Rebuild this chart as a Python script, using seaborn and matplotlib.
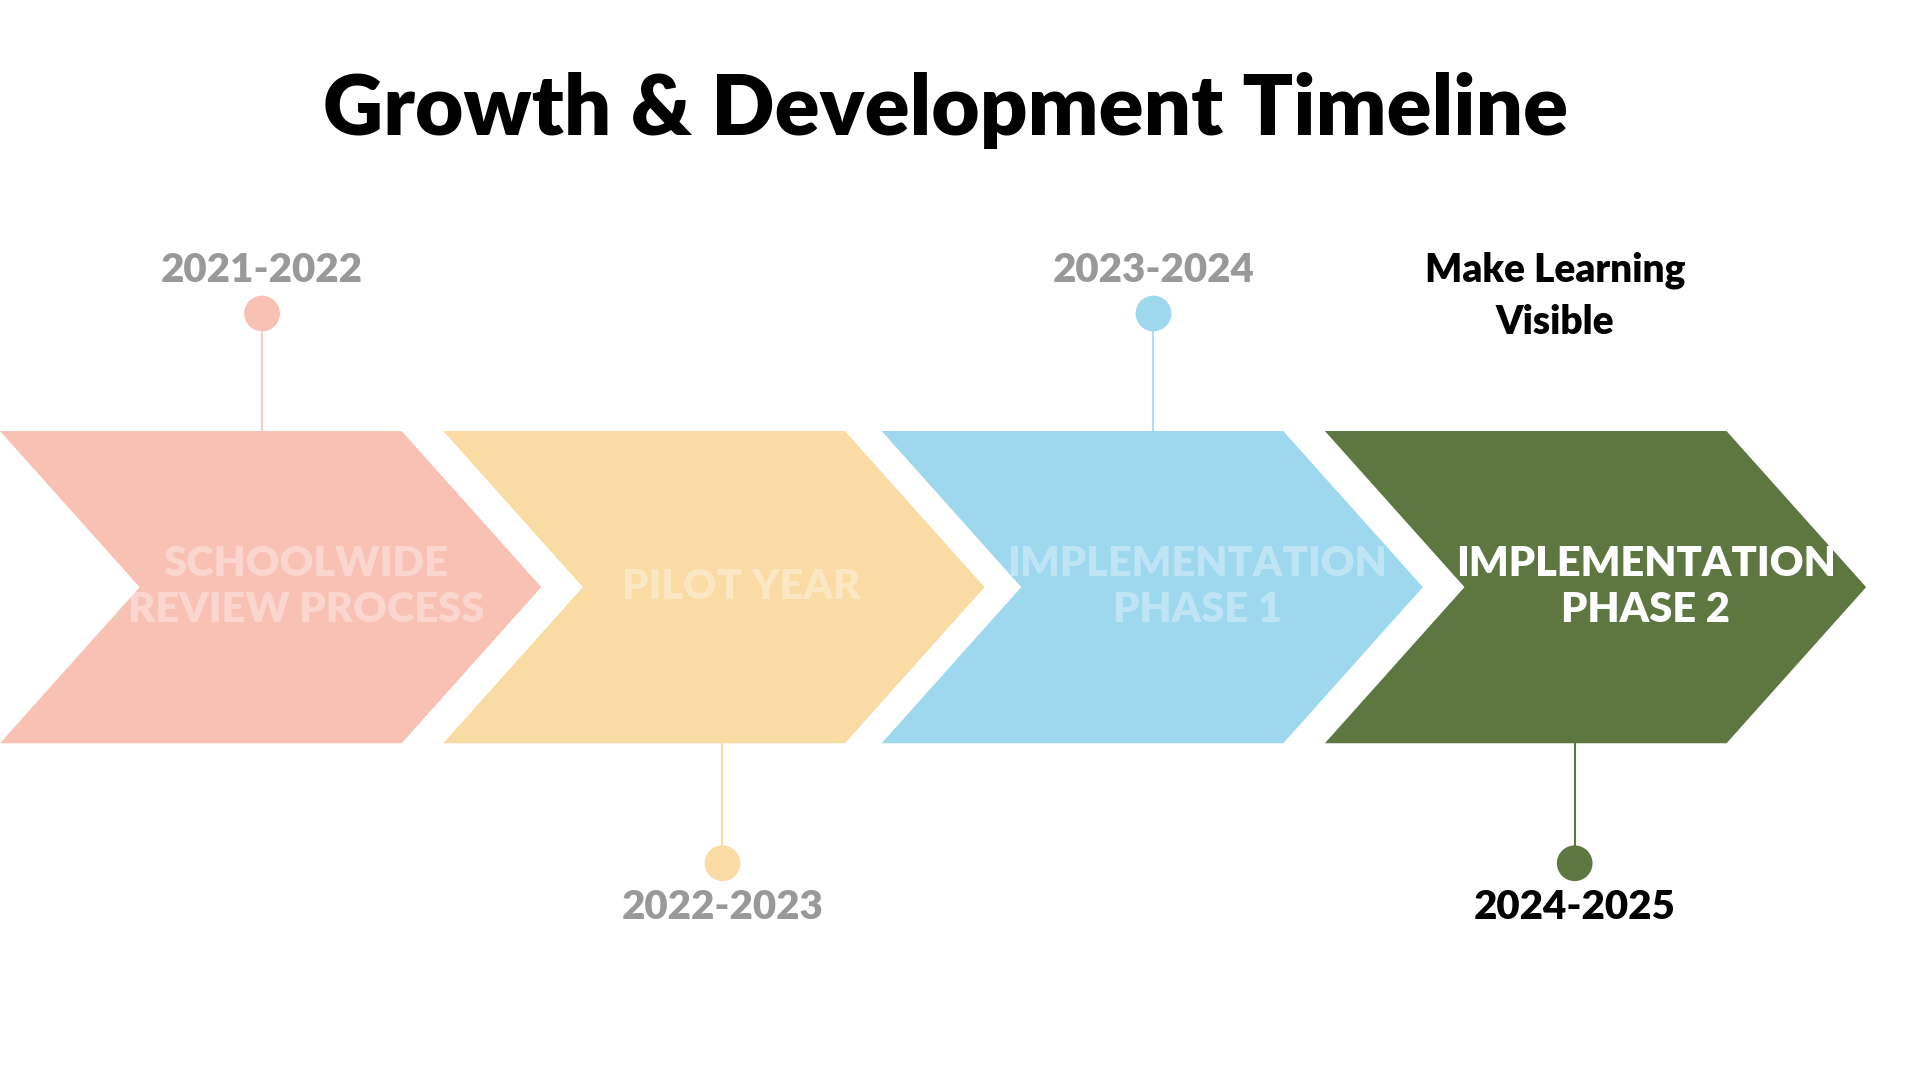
import matplotlib
matplotlib.use("Agg")
import matplotlib.pyplot as plt
from matplotlib.patches import Polygon, Circle
import seaborn as sns

sns.set_theme(style="white", font="Lato")

# data
phases = ["SCHOOLWIDE\nREVIEW PROCESS", "PILOT YEAR", "IMPLEMENTATION\nPHASE 1", "IMPLEMENTATION\nPHASE 2"]
years = ["2021-2022", "2022-2023", "2023-2024", "2024-2025"]
colors = ["#F8C1B4", "#FADBA3", "#9DD8EF", "#5E7741"]
year_colors = ["#999999", "#999999", "#999999", "#000000"]
text_alpha = [0.35, 0.35, 0.35, 1.0]

fig = plt.figure(figsize=(19.2, 10.8), dpi=100)
ax = fig.add_axes([0, 0, 1, 1])
ax.set_xlim(0, 1568)
ax.set_ylim(882, 0)
ax.axis("off")

ax.text(772, 90, "Growth & Development Timeline", ha="center", va="center",
        fontsize=60, fontweight="heavy", color="black")

lefts = [0, 362, 720, 1082]
text_dx = [250, 243, 258, 262]
dot_dx = [214, 228, 222, 204]
w, tip, top, bot = 328, 114, 352, 607
for i, (name, yr, c) in enumerate(zip(phases, years, colors)):
    x0 = lefts[i]
    mid = (top + bot) / 2
    ax.add_patch(Polygon([(x0, top), (x0 + w, top), (x0 + w + tip, mid),
                          (x0 + w, bot), (x0, bot), (x0 + tip, mid)],
                         closed=True, color=c, lw=0))
    ax.text(x0 + text_dx[i], mid, name, ha="center", va="center", fontsize=30,
            fontweight="heavy", color="white", alpha=text_alpha[i], linespacing=1.25)
    cx = x0 + dot_dx[i]
    if i % 2 == 0:
        ax.plot([cx, cx], [256, top + 5], color=c, lw=1.2)
        ax.add_patch(Circle((cx, 256), 14, color=c))
        ax.text(cx, 221, yr, ha="center", va="center", fontsize=29,
                fontweight="heavy", color=year_colors[i])
    else:
        ax.plot([cx, cx], [bot - 2, 705], color=c, lw=1.5)
        ax.add_patch(Circle((cx, 705), 14, color=c))
        ax.text(cx, 741, yr, ha="center", va="center", fontsize=29,
                fontweight="heavy", color=year_colors[i])

ax.text(1270, 242, "Make Learning\nVisible", ha="center", va="center",
        fontsize=28, fontweight="heavy", color="black", linespacing=1.5)

fig.savefig("out.png", dpi=100, facecolor="white")
